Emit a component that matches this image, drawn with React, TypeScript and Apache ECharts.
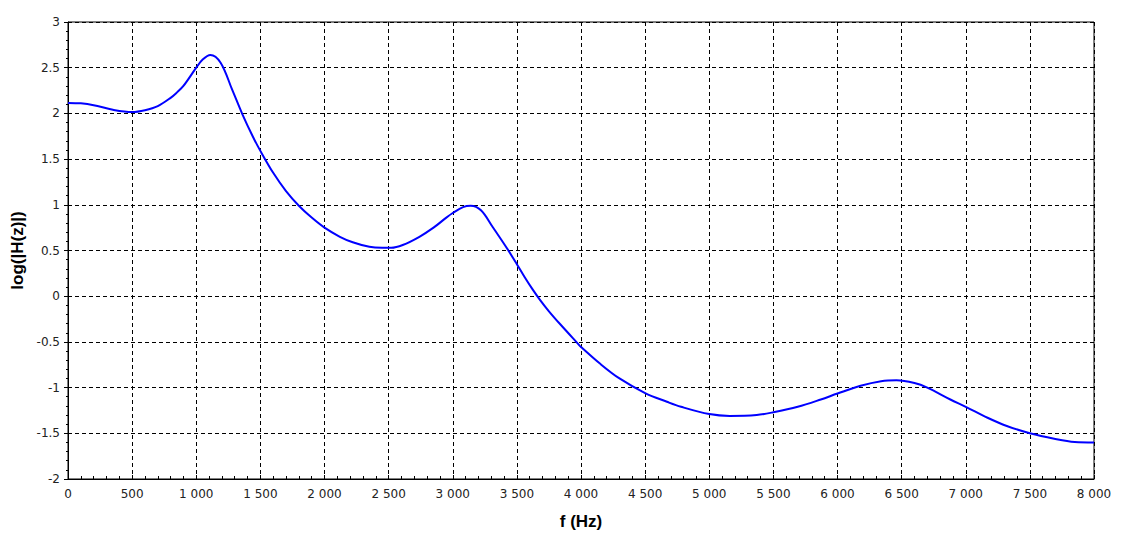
import React, { useEffect, useRef } from "react";
import * as echarts from "echarts";

const freqHz = [
  0, 100, 200, 350, 500, 600, 700, 800, 850, 900, 1000, 1050, 1110, 1190, 1280, 1360, 1440,
  1500, 1600, 1700, 1800, 1900, 2000, 2120, 2220, 2350, 2450, 2520, 2610, 2740, 2850, 2950,
  3000, 3080, 3140, 3220, 3310, 3420, 3500, 3560, 3620, 3680, 3750, 3840, 3970, 4000, 4150,
  4300, 4500, 4670, 4780, 5000, 5160, 5370, 5500, 5690, 5870, 6000, 6180, 6340, 6460, 6600,
  6700, 6880, 7000, 7170, 7320, 7500, 7690, 7850, 8000,
];

const logH = [
  2.115, 2.11, 2.09, 2.04, 2.015, 2.035, 2.08, 2.17, 2.23, 2.3, 2.5, 2.59, 2.64, 2.555, 2.26,
  1.99, 1.75, 1.59, 1.35, 1.15, 0.99, 0.86, 0.75, 0.65, 0.59, 0.54, 0.53, 0.53, 0.56, 0.65,
  0.75, 0.86, 0.91, 0.975, 0.99, 0.94, 0.76, 0.53, 0.35, 0.21, 0.08, -0.04, -0.165, -0.31,
  -0.51, -0.555, -0.74, -0.9, -1.06, -1.155, -1.21, -1.29, -1.31, -1.3, -1.27, -1.21, -1.13,
  -1.065, -0.98, -0.93, -0.92, -0.95, -1.0, -1.13, -1.21, -1.33, -1.42, -1.5, -1.56, -1.595,
  -1.6,
];

const xAxisName = "f (Hz)";
const yAxisName = "log(|H(z)|)";

function fmtThousands(v: number): string {
  const s = String(Math.round(v));
  return s.replace(/\B(?=(\d{3})+(?!\d))/g, " ");
}

export default function App() {
  const ref = useRef<HTMLDivElement>(null);
  useEffect(() => {
    if (!ref.current) return;
    const chart = echarts.init(ref.current, null, { renderer: "svg" });
    const font = "DejaVu Sans";
    const nameFont = "Liberation Sans";
    const dash = { type: [4, 3] as any, color: "#000", width: 1 };
    chart.setOption({
      animation: false,
      backgroundColor: "#fff",
      textStyle: { fontFamily: font },
      grid: {
        left: 68,
        right: 41,
        top: 22,
        bottom: 60,
        show: true,
        borderColor: "#000",
        borderWidth: 1,
        containLabel: false,
      },
      xAxis: {
        type: "value",
        min: 0,
        max: 8000,
        interval: 500,
        name: xAxisName,
        nameLocation: "middle",
        nameGap: 34,
        nameTextStyle: { fontSize: 17, fontWeight: "bold", color: "#000", fontFamily: nameFont },
        axisLine: { show: true, onZero: false, lineStyle: { color: "#000", width: 1 } },
        axisTick: { show: true, inside: true, length: 4, lineStyle: { color: "#000" } },
        minorTick: { show: true, splitNumber: 5, length: 3, lineStyle: { color: "#000" } },
        axisLabel: {
          fontSize: 12,
          color: "#222",
          margin: 9,
          fontFamily: font,
          formatter: (v: number) => fmtThousands(v),
        },
        splitLine: { show: true, lineStyle: dash },
      },
      yAxis: {
        type: "value",
        min: -2,
        max: 3,
        interval: 0.5,
        name: yAxisName,
        nameLocation: "middle",
        nameGap: 40,
        nameRotate: 90,
        nameTextStyle: { fontSize: 17, fontWeight: "bold", color: "#000", fontFamily: nameFont },
        axisLine: { show: true, onZero: false, lineStyle: { color: "#000", width: 1 } },
        axisTick: { show: true, inside: false, length: 4, lineStyle: { color: "#000" } },
        minorTick: { show: true, splitNumber: 5, length: 2, lineStyle: { color: "#000" } },
        axisLabel: { fontSize: 12, color: "#222", margin: 8, fontFamily: font },
        splitLine: { show: true, lineStyle: dash },
      },
      series: [
        {
          type: "line",
          data: freqHz.map((f, i) => [f, logH[i]]),
          smooth: 0.35,
          showSymbol: false,
          symbol: "none",
          lineStyle: { color: "#0000ff", width: 2 },
          z: 5,
        },
      ],
    });
    return () => chart.dispose();
  }, []);
  return <div ref={ref} style={{ width: 1135, height: 539, position: "absolute", left: 0, top: 0 }} />;
}
